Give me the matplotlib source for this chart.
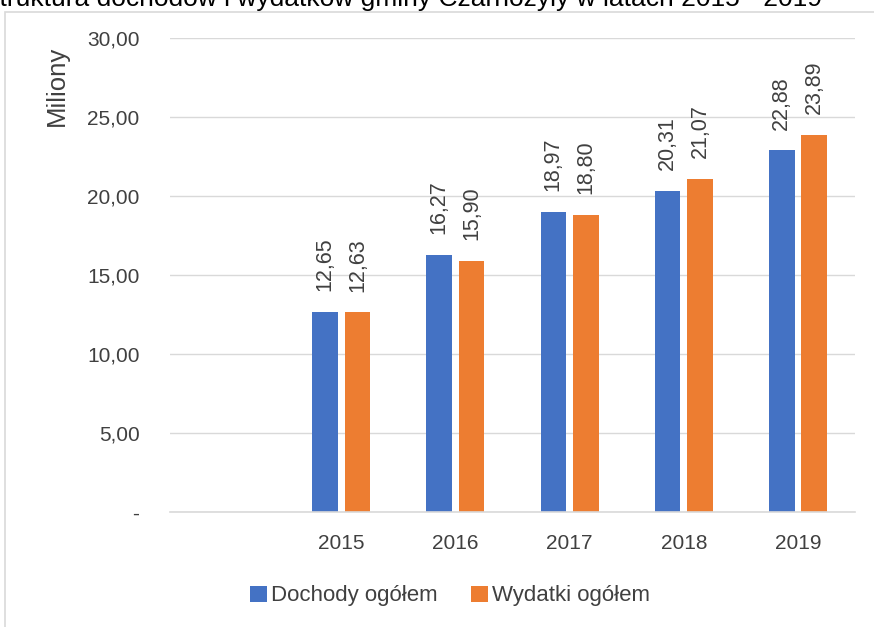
import numpy as np
import matplotlib
matplotlib.use('Agg')
import matplotlib.pyplot as plt
from matplotlib.patches import Rectangle

plt.rcParams['font.family'] = ['Liberation Sans', 'DejaVu Sans']

categories = ['', '2015', '2016', '2017', '2018', '2019']
dochody = [np.nan, 12.65, 16.27, 18.97, 20.31, 22.88]
wydatki = [np.nan, 12.63, 15.90, 18.80, 21.07, 23.89]
series_names = ['Dochody ogółem', 'Wydatki ogółem']
title = 'Struktura dochodów i wydatków gminy Czarnożyły w latach 2015 - 2019'

BLUE = '#4472c4'
ORANGE = '#ed7d31'
TXT = '#404040'


def fmt(v):
    return f'{v:.2f}'.replace('.', ',')


W, H = 874, 627
fig = plt.figure(figsize=(W / 100, H / 100), dpi=100)
ax = fig.add_axes([170 / W, 1 - 512 / H, 685 / W, 474 / H])

# outer frame (cut by the image edge on the right/bottom)
fig.patches.append(Rectangle((5 / W, -0.1), 1.2, 1 - 12 / H + 0.1, transform=fig.transFigure,
                             fill=False, edgecolor='#d9d9d9', linewidth=1.2))

x = np.arange(len(categories))
bw = 0.225
off = 0.142
b1 = ax.bar(x - off, dochody, bw, color=BLUE, label=series_names[0])
b2 = ax.bar(x + off, wydatki, bw, color=ORANGE, label=series_names[1])

for xs, vals in ((x - off, dochody), (x + off, wydatki)):
    for xi, v in zip(xs, vals):
        if np.isnan(v):
            continue
        ax.annotate(fmt(v), (xi, v), xytext=(0, 15), textcoords='offset points',
                    rotation=90, ha='center', va='bottom', fontsize=15.5, color=TXT)

ax.set_xlim(-0.5, len(categories) - 0.5)
ax.set_ylim(0, 30)
ax.set_yticks(np.arange(0, 31, 5))
ax.set_yticklabels(['-'] + [fmt(t) for t in np.arange(5, 31, 5)])
ax.set_xticks(x)
ax.set_xticklabels(categories)
ax.tick_params(length=0, labelsize=15, colors=TXT)
ax.tick_params(axis='y', pad=22)
ax.tick_params(axis='x', pad=16)
ax.grid(axis='y', color='#d9d9d9', linewidth=1)
ax.set_axisbelow(True)
for s in ('top', 'right', 'left'):
    ax.spines[s].set_visible(False)
ax.spines['bottom'].set_color('#d9d9d9')
ax.spines['bottom'].set_linewidth(1.2)

ax.set_ylabel('Miliony', fontsize=18.5, color=TXT)
ax.yaxis.set_label_coords(-0.148, 0.9)

fig.legend(handles=[b1, b2], loc='center', bbox_to_anchor=(450 / W, 1 - 596 / H), ncol=2,
           frameon=False, fontsize=16, handlelength=0.75, handleheight=0.75,
           handletextpad=0.2, columnspacing=1.5, labelcolor=TXT)

fig.text(402 / W, 1 - 6 / H, title, ha='center', va='baseline', fontsize=19, color='black')

fig.savefig('out.png', dpi=100, facecolor='white')
